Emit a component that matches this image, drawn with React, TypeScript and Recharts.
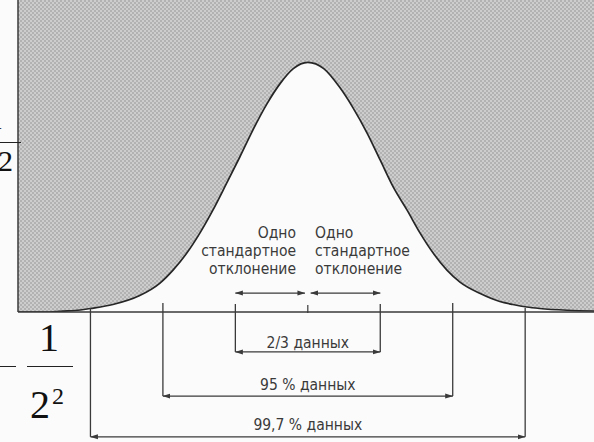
import { Area, CartesianGrid, ComposedChart, ReferenceDot, ReferenceLine, XAxis, YAxis } from "recharts";

// curve: x in standard deviations, height relative to the peak
const sigmas = [
  -4, -3.56, -3.42, -3.14, -3.0, -2.69, -2.32, -2.04, -1.86, -1.67, -1.49, -1.31, -1.12, -0.94, -0.76, -0.56, -0.38,
  -0.2, 0, 0.22, 0.44, 0.62, 0.82, 1.0, 1.18, 1.37, 1.55, 1.73, 1.92, 2.1, 2.38, 2.65, 2.83, 3.02, 3.2, 3.58, 3.95,
];
const heights = [
  0, 0, 0.003, 0.008, 0.014, 0.03, 0.066, 0.116, 0.168, 0.236, 0.316, 0.408, 0.516, 0.62, 0.728, 0.836, 0.916, 0.975,
  1.0, 0.975, 0.9, 0.82, 0.716, 0.608, 0.5, 0.408, 0.316, 0.236, 0.168, 0.12, 0.074, 0.042, 0.03, 0.02, 0.014, 0.007,
  0.004,
];

const spanSigmas = [1, 2, 3];
const spanLabels = ["2/3 данных", "95 % данных", "99,7 % данных"];
const sigmaLabel = ["Одно", "стандартное", "отклонение"];

const data = sigmas.map((z, i) => ({ z, h: heights[i] }));

// layout (in chart units)
const X_MIN = -4;
const X_MAX = 3.95;
const spanTop = [0.032, 0.036, 0.016];
const spanRow = [-0.16, -0.337, -0.5];
const spanText = [-0.124, -0.292, -0.453];
const sigmaRow = 0.076;
const sigmaLines = [0.317, 0.244, 0.172];

const INK = "#3a3a3a";
const LABEL_FONT = "'DejaVu Sans Condensed', 'Liberation Sans Narrow', sans-serif";

const textAt =
  (value: string, anchor: "start" | "middle" | "end") =>
  (props: any) => {
    const vb = props.viewBox || {};
    return (
      <text
        x={vb.x + (vb.width || 0) / 2}
        y={vb.y + (vb.height || 0) / 2}
        textAnchor={anchor}
        dominantBaseline="central"
        fill={INK}
        fontFamily={LABEL_FONT}
        fontSize={15.5}
      >
        {value}
      </text>
    );
  };

const serif = "'Liberation Serif', 'Times New Roman', serif";

const App = () => {
  return (
    <div style={{ position: "absolute", left: 0, top: 0, width: 594, height: 442, background: "#fbfbfb", overflow: "hidden" }}>
      <ComposedChart width={594} height={442} data={data} margin={{ top: 0, right: 0, bottom: 130, left: 18 }}>
        <defs>
          <pattern id="halftone" width="4" height="4" patternUnits="userSpaceOnUse">
            <rect width="4" height="4" fill="#cdcdcd" />
            <rect x="0" y="0" width="2" height="2" fill="#b2b2b2" />
            <rect x="2" y="2" width="2" height="2" fill="#b2b2b2" />
          </pattern>
          <marker
            id="arrow"
            markerWidth="8"
            markerHeight="6"
            refX="7.5"
            refY="3"
            orient="auto-start-reverse"
            markerUnits="userSpaceOnUse"
          >
            <path d="M0,0.5 L8,3 L0,5.5 z" fill={INK} />
          </marker>
        </defs>
        <CartesianGrid horizontal={false} vertical={false} fill="url(#halftone)" fillOpacity={1} />
        <XAxis type="number" dataKey="z" domain={[X_MIN, X_MAX]} hide allowDataOverflow />
        <YAxis type="number" domain={[0, 1.25]} hide allowDataOverflow />
        <Area
          type="monotone"
          dataKey="h"
          fill="#fbfbfb"
          fillOpacity={1}
          stroke="#262626"
          strokeWidth={1.7}
          isAnimationActive={false}
        />
        <ReferenceLine x={X_MIN} stroke={INK} strokeWidth={1.5} />
        <ReferenceLine y={0} stroke={INK} strokeWidth={1.4} />
        <ReferenceLine
          segment={[
            { x: 0, y: 0.028 },
            { x: 0, y: -0.004 },
          ]}
          stroke={INK}
          strokeWidth={1.2}
          ifOverflow="visible"
        />
        {spanSigmas.map((s, i) => [
          <ReferenceLine
            key={`l${i}`}
            segment={[
              { x: -s, y: spanTop[i] },
              { x: -s, y: spanRow[i] },
            ]}
            stroke={INK}
            strokeWidth={1.3}
            ifOverflow="visible"
          />,
          <ReferenceLine
            key={`r${i}`}
            segment={[
              { x: s, y: spanTop[i] },
              { x: s, y: spanRow[i] },
            ]}
            stroke={INK}
            strokeWidth={1.3}
            ifOverflow="visible"
          />,
          <ReferenceLine
            key={`a${i}`}
            segment={[
              { x: -s, y: spanRow[i] },
              { x: s, y: spanRow[i] },
            ]}
            stroke={INK}
            strokeWidth={1.2}
            markerStart="url(#arrow)"
            markerEnd="url(#arrow)"
            ifOverflow="visible"
          />,
          <ReferenceDot
            key={`t${i}`}
            x={0}
            y={spanText[i]}
            r={0}
            fill="none"
            stroke="none"
            ifOverflow="visible"
            label={textAt(spanLabels[i], "middle")}
          />,
        ])}
        <ReferenceLine
          segment={[
            { x: -1, y: sigmaRow },
            { x: -0.04, y: sigmaRow },
          ]}
          stroke={INK}
          strokeWidth={1.2}
          markerStart="url(#arrow)"
          markerEnd="url(#arrow)"
          ifOverflow="visible"
        />
        <ReferenceLine
          segment={[
            { x: 0.04, y: sigmaRow },
            { x: 1, y: sigmaRow },
          ]}
          stroke={INK}
          strokeWidth={1.2}
          markerStart="url(#arrow)"
          markerEnd="url(#arrow)"
          ifOverflow="visible"
        />
        {sigmaLabel.map((t, i) => [
          <ReferenceDot
            key={`sl${i}`}
            x={-0.163}
            y={sigmaLines[i]}
            r={0}
            fill="none"
            stroke="none"
            ifOverflow="visible"
            label={textAt(t, "end")}
          />,
          <ReferenceDot
            key={`sr${i}`}
            x={0.1}
            y={sigmaLines[i]}
            r={0}
            fill="none"
            stroke="none"
            ifOverflow="visible"
            label={textAt(t, "start")}
          />,
        ])}
      </ComposedChart>

      {/* cut-off formula pieces at the left edge */}
      <div style={{ position: "absolute", left: -12, top: 104, fontFamily: serif, fontSize: 30, lineHeight: "30px", color: "#111" }}>
        1
      </div>
      <div style={{ position: "absolute", left: 0, top: 142, width: 21, height: 0, borderTop: "1.4px solid #222" }} />
      <div style={{ position: "absolute", left: -2, top: 146, fontFamily: serif, fontSize: 30, lineHeight: "30px", color: "#111" }}>
        2
      </div>
      <div style={{ position: "absolute", left: -2, top: 366, width: 18, height: 0, borderTop: "1.6px solid #222" }} />
      <div style={{ position: "absolute", left: 27, top: 366, width: 46, height: 0, borderTop: "1.6px solid #222" }} />
      <div style={{ position: "absolute", left: 39, top: 318, fontFamily: serif, fontSize: 40, lineHeight: "40px", color: "#111" }}>
        1
      </div>
      <div style={{ position: "absolute", left: 30, top: 376, fontFamily: serif, fontSize: 40, lineHeight: "40px", color: "#111" }}>
        2<span style={{ fontSize: 24, verticalAlign: 14, marginLeft: 2 }}>2</span>
      </div>
    </div>
  );
};

export default App;
